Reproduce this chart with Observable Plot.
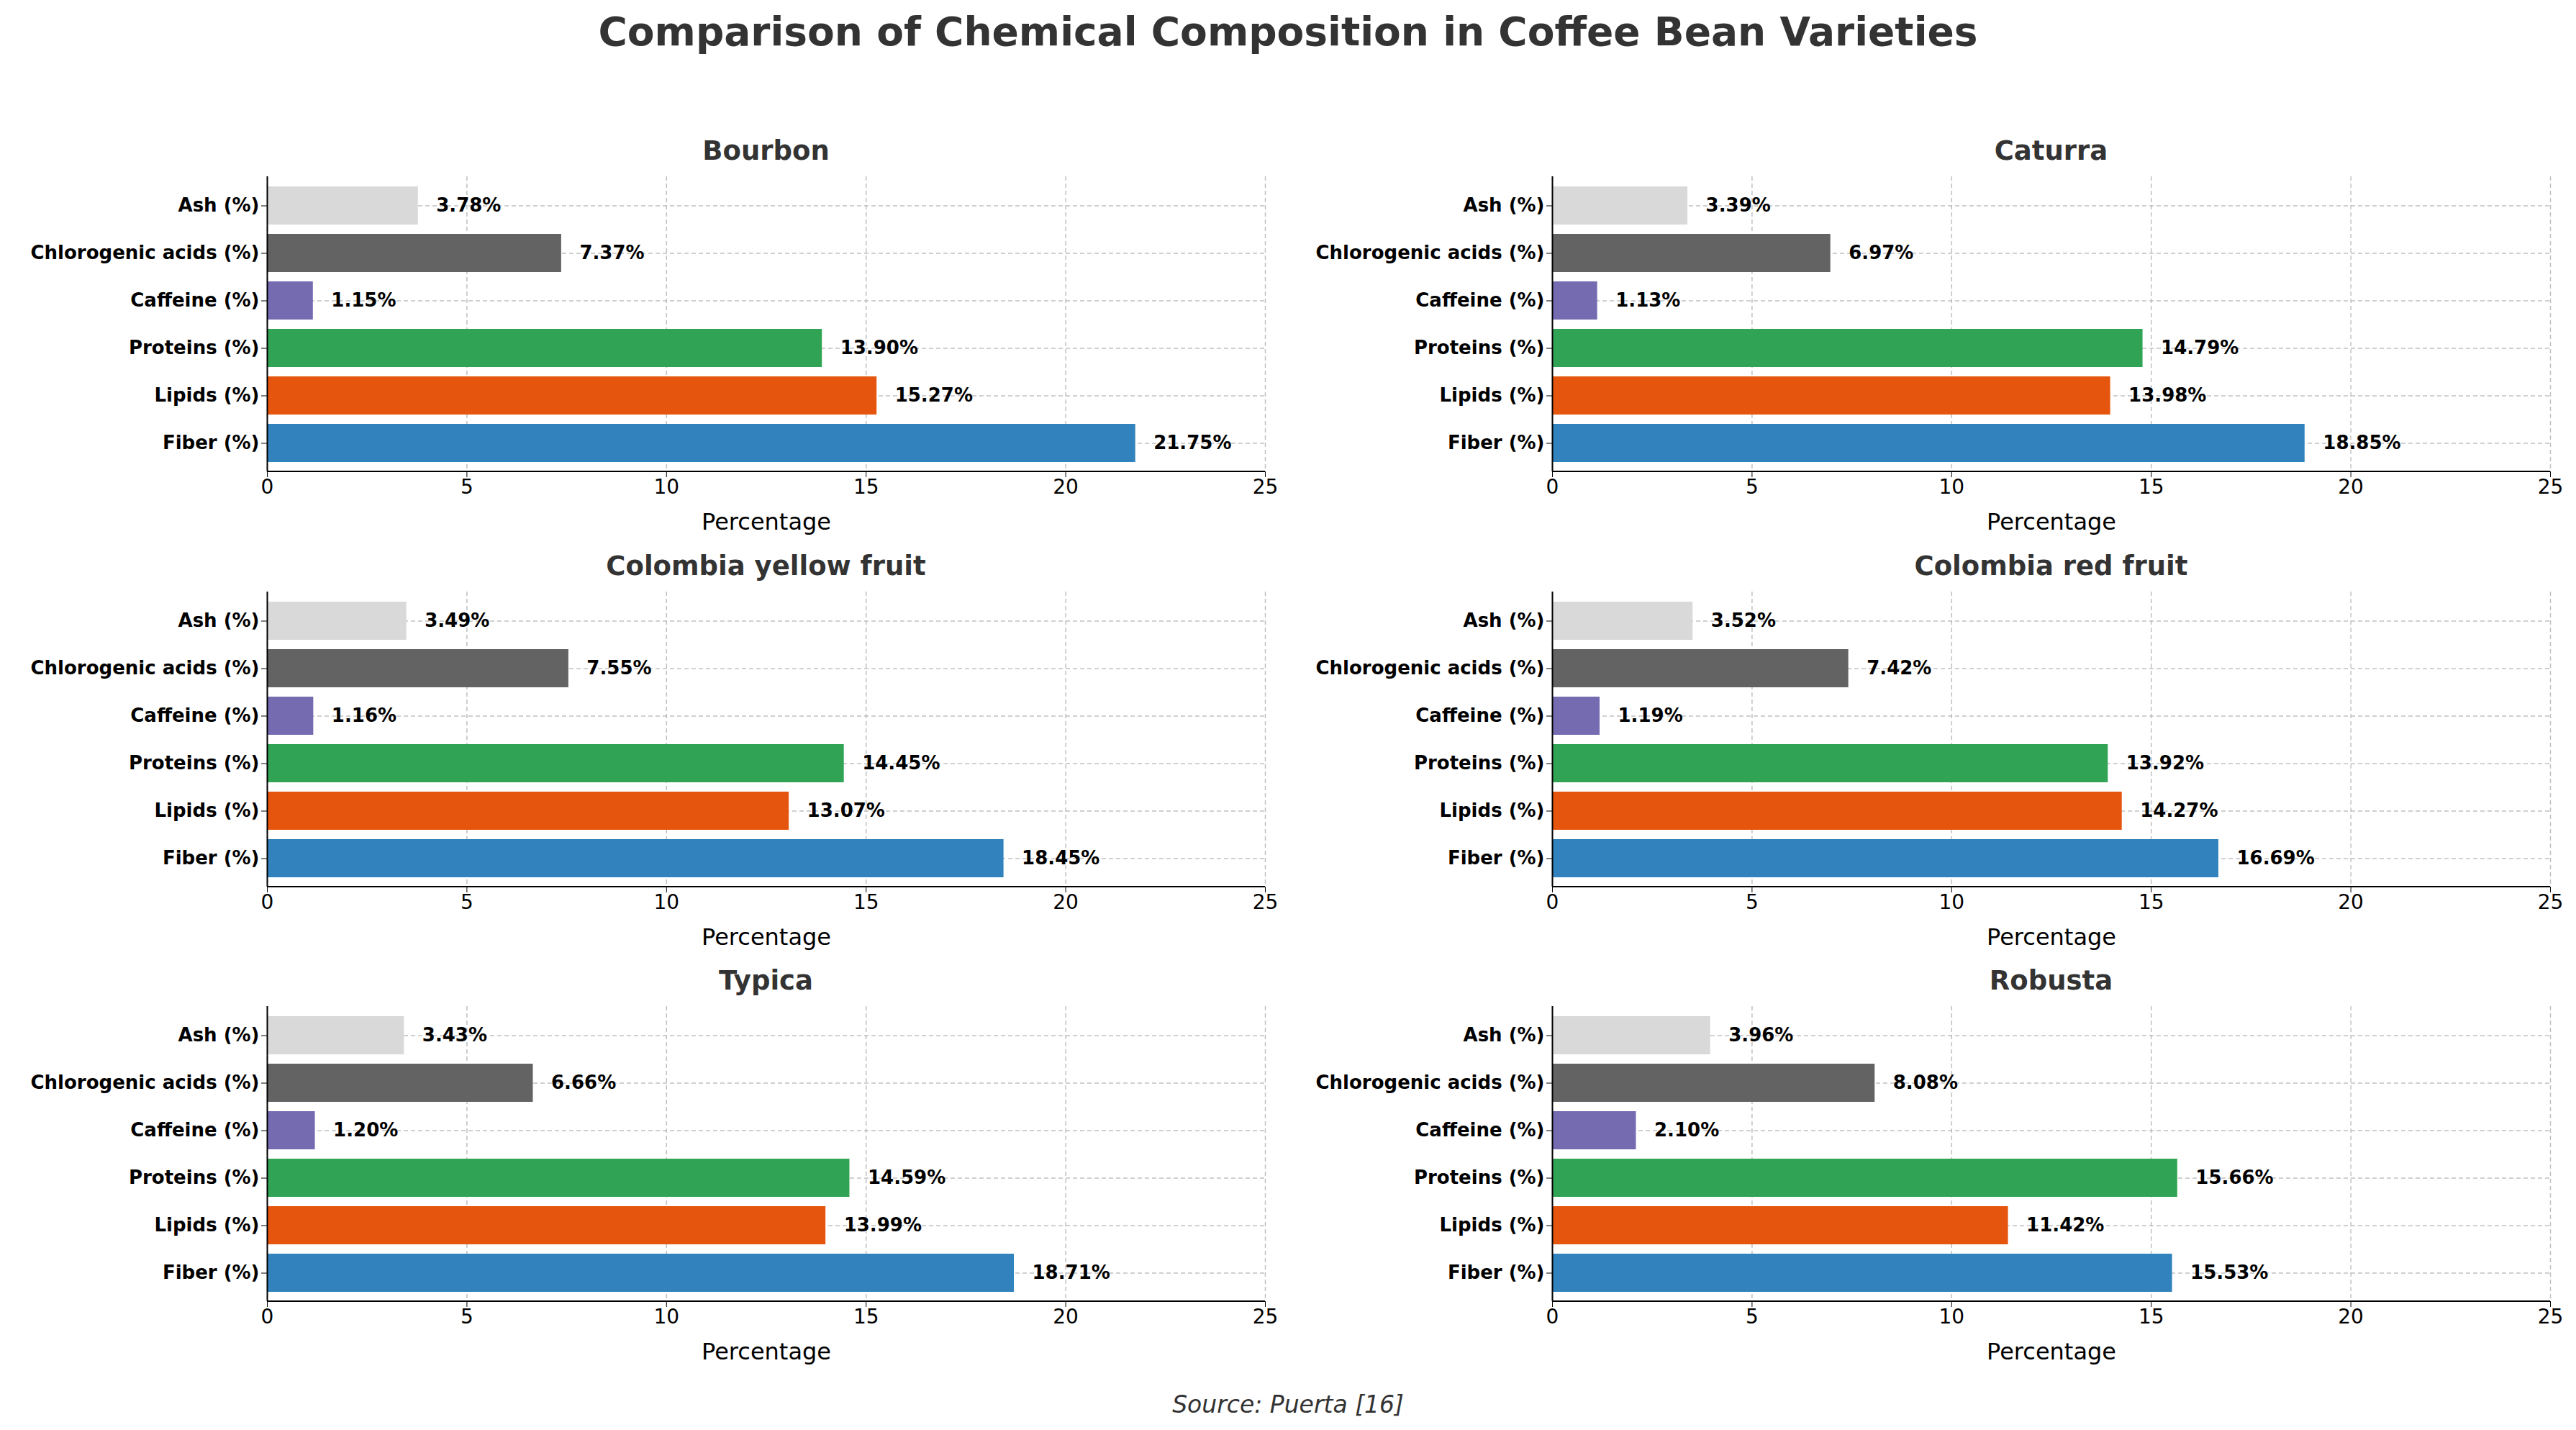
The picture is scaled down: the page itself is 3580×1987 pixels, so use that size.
<!DOCTYPE html>
<html><head><meta charset="utf-8">
<script src="https://cdn.jsdelivr.net/npm/d3@7"></script>
<script src="https://cdn.jsdelivr.net/npm/@observablehq/plot@0.6"></script>
<style>
body{margin:0;background:#fff;font-family:"DejaVu Sans",sans-serif;}
#wrap{position:relative;width:3580px;height:1987px;}
.t{position:absolute;color:#333;font-weight:bold;text-align:center;}
</style></head><body><div id="wrap"></div>
<script>
const varieties=["Bourbon","Caturra","Colombia yellow fruit","Colombia red fruit","Typica","Robusta"];
const components=["Fiber (%)","Lipids (%)","Proteins (%)","Caffeine (%)","Chlorogenic acids (%)","Ash (%)"];
const colors=["#3182bd","#e6550d","#31a354","#756bb1","#636363","#d9d9d9"];
const fiber=[21.75,18.85,18.45,16.69,18.71,15.53];
const lipids=[15.27,13.98,13.07,14.27,13.99,11.42];
const proteins=[13.90,14.79,14.45,13.92,14.59,15.66];
const caffeine=[1.15,1.13,1.16,1.19,1.20,2.10];
const chlorogenic=[7.37,6.97,7.55,7.42,6.66,8.08];
const ash=[3.78,3.39,3.49,3.52,3.43,3.96];
const series=[fiber,lipids,proteins,caffeine,chlorogenic,ash];
const xTicks=[0,5,10,15,20,25];

const wrap=document.getElementById("wrap");
function addText(txt,x,y,w,size,style){const d=document.createElement("div");d.className="t";d.textContent=txt;
 d.style.left=x+"px";d.style.top=y+"px";d.style.width=w+"px";d.style.fontSize=size+"px";if(style)Object.assign(d.style,style);wrap.appendChild(d);}
addText("Comparison of Chemical Composition in Coffee Bean Varieties",0,12,3580,55);

const rowsTop=[245,822,1398];
varieties.forEach((v,i)=>{
  const col=i%2,row=Math.floor(i/2);
  const left=col?1786:0, top=rowsTop[row]-10;
  const data=components.map((c,j)=>({c,v:series[j][i],col:colors[j]}));
  const p=Plot.plot({
    width:371+1387+32,height:10+410+100,
    marginLeft:371,marginRight:32,marginTop:10,marginBottom:100,
    style:{fontFamily:"DejaVu Sans",fontSize:"28px",color:"#000",background:"transparent"},
    x:{domain:[0,25],ticks:xTicks,label:"Percentage",labelAnchor:"center",labelArrow:"none",tickSize:8,labelOffset:80},
    y:{domain:components.slice().reverse(),padding:0.2,label:null,tickSize:8},
    marks:[
      Plot.gridX(xTicks,{stroke:"#b0b0b0",strokeOpacity:0.8,strokeDasharray:"6,4",strokeWidth:1.5}),
      Plot.gridY(components,{stroke:"#b0b0b0",strokeOpacity:0.8,strokeDasharray:"6,4",strokeWidth:1.5}),
      Plot.barX(data,{x:"v",y:"c",fill:"col"}),
      Plot.text(data,{x:"v",y:"c",text:d=>d.v.toFixed(2)+"%",textAnchor:"start",dx:25,fontWeight:"bold",fontSize:26,fill:"#000"}),
      Plot.ruleX([0],{stroke:"#000",strokeWidth:2})
    ]
  });
  p.querySelectorAll('[aria-label="y-axis tick label"] text').forEach(t=>{t.setAttribute("font-weight","bold");t.setAttribute("font-size","26");});
  p.querySelectorAll('[aria-label="y-axis tick label"]').forEach(g=>{g.setAttribute("font-weight","bold");g.setAttribute("font-size","26");});
  p.querySelectorAll('[aria-label="x-axis label"]').forEach(g=>g.setAttribute("font-size","32"));
  p.querySelectorAll('[aria-label="x-axis label"] text').forEach(t=>t.setAttribute("font-size","32"));
  const ns="http://www.w3.org/2000/svg";const ln=document.createElementNS(ns,"line");
  ln.setAttribute("x1",371);ln.setAttribute("x2",371+1387);ln.setAttribute("y1",420);ln.setAttribute("y2",420);
  ln.setAttribute("stroke","#000");ln.setAttribute("stroke-width",2);p.appendChild(ln);
  p.style.position="absolute";p.style.left=left+"px";p.style.top=top+"px";
  wrap.appendChild(p);
  addText(v,left+371,rowsTop[row]-57,1387,37);
});
addText("Source: Puerta [16]",0,1932,3580,33,{fontWeight:"normal",fontStyle:"italic"});
</script></body></html>
